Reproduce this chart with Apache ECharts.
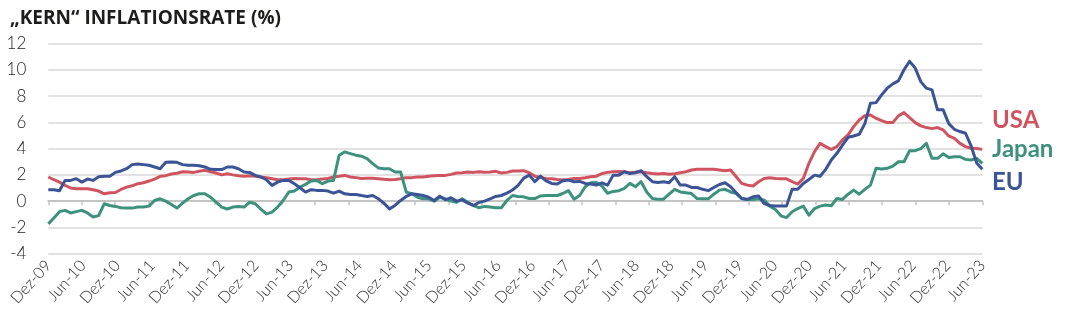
<!DOCTYPE html>
<html><head><meta charset="utf-8">
<script src="https://cdn.jsdelivr.net/npm/echarts@6/dist/echarts.min.js"></script>
<style>html,body{margin:0;padding:0;background:#fff}#c{width:1076px;height:336px}</style>
</head><body><div id="c"></div>
<script>
const chartTitle = '„KERN“ INFLATIONSRATE (%)';
const seriesNames = ['USA', 'Japan', 'EU'];
const tickLabels = ['Dez-09','Jun-10','Dez-10','Jun-11','Dez-11','Jun-12','Dez-12','Jun-13','Dez-13','Jun-14','Dez-14','Jun-15','Dez-15','Jun-16','Dez-16','Jun-17','Dez-17','Jun-18','Dez-18','Jun-19','Dez-19','Jun-20','Dez-20','Jun-21','Dez-21','Jun-22','Dez-22','Jun-23'];
const yTicks = [-4, -2, 0, 2, 4, 6, 8, 10, 12];

// monthly values, Dez-09 ... Nov-23
const usa = [1.84,1.63,1.45,1.2,1.0,0.94,0.94,0.94,0.87,0.77,0.56,0.64,0.66,0.89,1.07,1.17,1.33,1.4,1.53,1.68,
1.89,1.94,2.07,2.12,2.24,2.22,2.19,2.27,2.35,2.24,2.14,2.0,2.09,2.0,1.94,1.89,1.94,1.89,1.84,1.79,
1.71,1.63,1.63,1.68,1.73,1.71,1.71,1.63,1.63,1.68,1.73,1.84,1.89,1.96,1.84,1.79,1.73,1.75,1.75,1.71,
1.66,1.63,1.65,1.71,1.79,1.79,1.84,1.84,1.89,1.94,1.96,1.96,2.04,2.14,2.17,2.22,2.19,2.24,2.2,2.22,
2.27,2.14,2.19,2.3,2.3,2.32,2.16,1.9,1.8,1.73,1.7,1.65,1.63,1.65,1.73,1.73,1.78,1.86,1.9,2.1,
2.19,2.24,2.26,2.24,2.16,2.21,2.24,2.16,2.1,2.06,2.1,2.04,2.08,2.16,2.24,2.37,2.42,2.42,2.42,2.42,
2.37,2.32,2.37,1.86,1.35,1.22,1.15,1.48,1.73,1.78,1.73,1.7,1.7,1.48,1.3,1.73,2.88,3.77,4.4,4.15,
3.94,4.15,4.66,5.04,5.67,6.18,6.51,6.56,6.31,6.13,5.98,5.98,6.49,6.74,6.36,5.98,5.73,5.6,5.52,5.6,
5.42,4.96,4.78,4.4,4.15,4.02,4.0,3.94];
const japan = [-1.73,-1.28,-0.8,-0.7,-0.9,-0.8,-0.7,-0.9,-1.2,-1.1,-0.2,-0.33,-0.4,-0.5,-0.53,-0.53,-0.45,-0.45,-0.38,0.05,
0.18,0.0,-0.25,-0.53,-0.15,0.18,0.43,0.56,0.56,0.3,-0.08,-0.45,-0.6,-0.45,-0.4,-0.45,-0.08,-0.2,-0.6,-0.97,
-0.84,-0.45,0.05,0.69,0.77,1.07,1.28,1.53,1.58,1.33,1.53,1.58,3.5,3.75,3.62,3.5,3.42,3.24,2.86,2.53,
2.47,2.47,2.22,2.22,0.69,0.56,0.3,0.18,0.18,0.0,0.3,0.18,0.0,-0.08,0.18,-0.08,-0.33,-0.5,-0.4,-0.45,
-0.5,-0.5,0.05,0.43,0.35,0.33,0.2,0.2,0.4,0.43,0.43,0.43,0.58,0.8,0.15,0.43,1.1,1.4,1.42,1.15,
0.6,0.74,0.8,0.97,1.35,1.1,1.48,0.7,0.2,0.15,0.15,0.53,0.9,0.7,0.64,0.58,0.2,0.18,0.18,0.53,
0.84,0.9,0.7,0.58,0.2,0.13,0.13,0.18,0.08,-0.38,-0.64,-1.12,-1.25,-0.81,-0.56,-0.38,-1.07,-0.56,-0.38,-0.3,
-0.35,0.2,0.13,0.53,0.84,0.53,0.9,1.22,2.5,2.44,2.5,2.67,3.0,3.0,3.84,3.84,4.0,4.4,3.26,3.26,
3.6,3.33,3.38,3.38,3.18,3.13,3.26,2.87];
const eu = [0.87,0.87,0.79,1.58,1.58,1.71,1.45,1.68,1.58,1.86,1.89,1.89,2.19,2.3,2.47,2.78,2.83,2.78,2.73,2.6,
2.47,2.96,2.98,2.96,2.78,2.73,2.73,2.7,2.6,2.42,2.4,2.4,2.6,2.6,2.47,2.22,2.19,1.96,1.84,1.63,
1.2,1.45,1.58,1.58,1.33,1.02,0.69,0.87,0.82,0.82,0.77,0.61,0.77,0.56,0.51,0.51,0.43,0.36,0.43,0.18,
-0.15,-0.59,-0.33,0.05,0.36,0.56,0.51,0.43,0.3,0.05,0.38,0.1,0.26,0.0,0.1,-0.15,-0.33,-0.1,0.0,0.18,
0.36,0.43,0.61,0.85,1.2,1.75,1.98,1.48,1.9,1.55,1.35,1.3,1.55,1.6,1.48,1.5,1.35,1.3,1.22,1.4,
1.22,1.98,1.98,2.24,2.1,2.16,2.32,1.86,1.48,1.42,1.48,1.4,1.86,1.22,1.22,1.04,1.04,0.9,0.8,1.04,
1.27,1.4,1.1,0.64,0.2,0.13,0.33,0.4,-0.18,-0.33,-0.36,-0.36,-0.36,0.9,0.9,1.35,1.65,1.98,1.9,2.42,
3.13,3.64,4.27,4.86,4.96,5.09,5.9,7.46,7.5,8.09,8.6,8.93,9.16,10.0,10.64,10.13,9.1,8.6,8.47,6.95,
6.95,5.9,5.47,5.3,5.17,4.2,2.9,2.42];

const colors = ['#cf5460', '#3d917d', '#3b5496'];
const seriesValues = [usa, japan, eu];
const lastIndex = usa.length - 1;
const fontFam = 'Lato, "Open Sans", sans-serif';

const chart = echarts.init(document.getElementById('c'), null, {renderer: 'canvas'});
const legendY = [120.5, 149.5, 182.5];

chart.setOption({
  animation: false,
  backgroundColor: '#ffffff',
  title: {
    text: chartTitle, left: 5, top: 4,
    textStyle: {fontFamily: '"Open Sans", Lato, sans-serif', fontSize: 19, fontWeight: 'bold', color: '#1d1d1b'}
  },
  grid: {left: 48.3, right: 93.7, top: 43.5, bottom: 82.3, containLabel: false},
  xAxis: [
    {
      type: 'value', min: 0, max: lastIndex, interval: lastIndex / 28,
      position: 'bottom',
      axisLine: {show: true, onZero: true, lineStyle: {color: '#c4c4c4', width: 2}},
      axisTick: {show: true, length: 4, lineStyle: {color: '#c4c4c4', width: 1.5}},
      axisLabel: {show: false},
      splitLine: {show: false}
    },
    {
      type: 'category', data: tickLabels, boundaryGap: false, position: 'bottom',
      axisLine: {show: false, onZero: false},
      axisTick: {show: false},
      splitLine: {show: false},
      axisLabel: {interval: 0, rotate: 48, margin: 9, fontFamily: fontFam, fontSize: 16, fontWeight: 300, color: '#333'}
    }
  ],
  yAxis: {
    type: 'value', min: yTicks[0], max: yTicks[yTicks.length - 1], interval: 2,
    axisLine: {show: false}, axisTick: {show: false},
    axisLabel: {margin: 22, fontFamily: fontFam, fontSize: 17, fontWeight: 300, color: '#222'},
    splitLine: {lineStyle: {color: '#d9d9d9', width: 1.5}}
  },
  series: seriesNames.map((name, k) => ({
    name: name, type: 'line', xAxisIndex: 0, showSymbol: false, symbol: 'none',
    data: seriesValues[k].map((v, i) => [i, v]),
    lineStyle: {color: colors[k], width: 3, join: 'round'},
    itemStyle: {color: colors[k]},
    z: 2 + k
  })),
  graphic: seriesNames.map((name, k) => ({
    type: 'text', x: 992, y: legendY[k],
    style: {text: name, fill: colors[k], font: 'bold 24px ' + fontFam, verticalAlign: 'middle', align: 'left'}
  }))
});
</script>
</body></html>
